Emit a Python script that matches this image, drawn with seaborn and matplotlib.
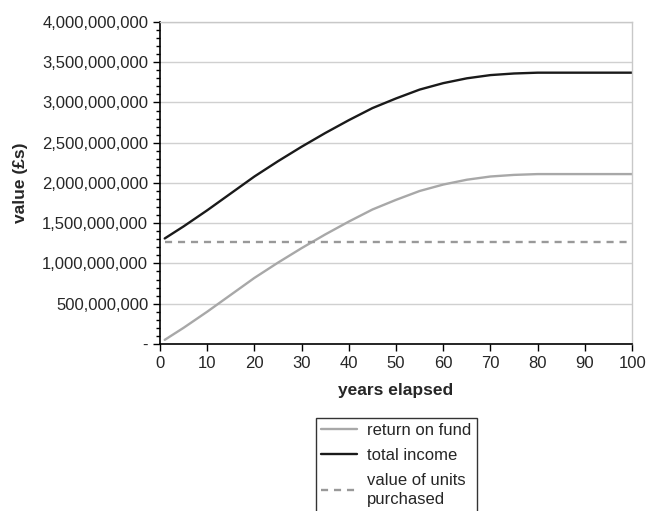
import numpy as np
import seaborn as sns
import matplotlib.pyplot as plt
import pandas as pd
from matplotlib.ticker import FuncFormatter, MultipleLocator

years = [1, 5, 10, 15, 20, 25, 30, 35, 40, 45, 50, 55, 60, 65, 70, 75, 80, 85, 90, 95, 100]
# values in billions of pounds
return_on_fund = [0.05, 0.20, 0.40, 0.61, 0.82, 1.01, 1.19, 1.36, 1.52, 1.67, 1.79, 1.90,
                  1.98, 2.04, 2.08, 2.10, 2.11, 2.11, 2.11, 2.11, 2.11]
total_income = [1.31, 1.46, 1.66, 1.87, 2.08, 2.27, 2.45, 2.62, 2.78, 2.93, 3.05, 3.16,
                3.24, 3.30, 3.34, 3.36, 3.37, 3.37, 3.37, 3.37, 3.37]
units_value = [1.26] * len(years)

labels = ['return on fund', 'total income', 'value of units\npurchased']

rows = []
for name, vals in zip(labels, [return_on_fund, total_income, units_value]):
    for y, v in zip(years, vals):
        rows.append({'year': y, 'value': v * 1e9, 'series': name})
df = pd.DataFrame(rows)

sns.set_style('white')
plt.rcParams['font.family'] = ['Liberation Sans', 'DejaVu Sans']

fig = plt.figure(figsize=(6.49, 5.11), dpi=100)
ax = fig.add_axes([0.2465, 0.327, 0.7275, 0.63])

palette = {labels[0]: '#a8a8a8', labels[1]: '#1a1a1a', labels[2]: '#999999'}
dashes = {labels[0]: '', labels[1]: '', labels[2]: (3, 2.5)}
sns.lineplot(data=df, x='year', y='value', hue='series', style='series',
             palette=palette, dashes=dashes, linewidth=1.7, ax=ax)

ax.set_xlim(0, 100)
ax.set_ylim(0, 4e9)
ax.xaxis.set_major_locator(MultipleLocator(10))
ax.yaxis.set_major_locator(MultipleLocator(5e8))
ax.yaxis.set_minor_locator(MultipleLocator(1e8))
ax.yaxis.set_major_formatter(FuncFormatter(lambda v, p: '-' if v == 0 else f'{v:,.0f}'))
ax.grid(axis='y', which='major', color='#d0d0d0', linewidth=1)
ax.set_axisbelow(True)

for s in ['left', 'bottom']:
    ax.spines[s].set_color('black')
    ax.spines[s].set_linewidth(1.2)
for s in ['top', 'right']:
    ax.spines[s].set_color('#c8c8c8')
    ax.spines[s].set_linewidth(1)

ax.tick_params(axis='both', which='major', direction='out', length=5, width=1,
               color='black', labelsize=12, left=True, bottom=True)
ax.tick_params(axis='y', which='minor', direction='out', length=3, width=1,
               color='black', left=True)

ax.set_xlabel('years elapsed', fontsize=12.5, fontweight='bold', labelpad=9)
ax.set_ylabel('value (£s)', fontsize=12.5, fontweight='bold', labelpad=10)

leg = ax.legend(loc='upper center', bbox_to_anchor=(0.5, -0.23), borderaxespad=0,
                frameon=True, fancybox=False, edgecolor='black', fontsize=12,
                handlelength=2.2, labelspacing=0.6, borderpad=0.3,
                handletextpad=0.6, title=None)
leg.get_frame().set_linewidth(1)
for t in leg.get_texts():
    t.set_linespacing(1.35)

fig.savefig('out.png', dpi=100)
